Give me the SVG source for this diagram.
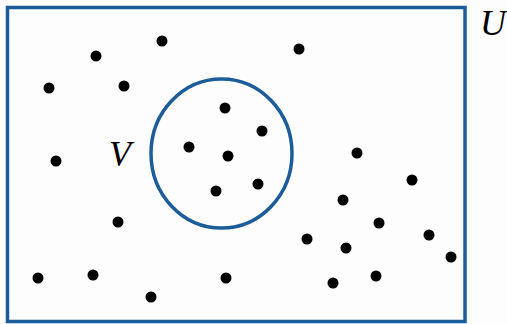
<svg xmlns="http://www.w3.org/2000/svg" width="507" height="324" viewBox="0 0 507 324">
<style>
.frame{fill:none;stroke:#1b5c99;stroke-width:3.5}
.dot{fill:#000}
.lbl{font-family:"Liberation Serif",serif;font-style:italic;font-size:36px;fill:#000}
</style>
<rect width="507" height="324" fill="#fdfdfd"/>
<g id="U">
<rect class="frame" x="7.5" y="7.5" width="457.5" height="314"/>
<text class="lbl" x="480" y="35">U</text>
</g>
<g id="V">
<ellipse class="frame" cx="221.5" cy="153.5" rx="70.5" ry="74.5"/>
<text class="lbl" x="109" y="166">V</text>
</g>
<g id="points">
<circle class="dot" cx="162" cy="41" r="5.5"/>
<circle class="dot" cx="96" cy="56" r="5.5"/>
<circle class="dot" cx="49" cy="88" r="5.5"/>
<circle class="dot" cx="124" cy="86" r="5.5"/>
<circle class="dot" cx="225" cy="108" r="5.5"/>
<circle class="dot" cx="262" cy="131" r="5.5"/>
<circle class="dot" cx="189" cy="147" r="5.5"/>
<circle class="dot" cx="228" cy="156" r="5.5"/>
<circle class="dot" cx="56" cy="161" r="5.5"/>
<circle class="dot" cx="299" cy="49" r="5.5"/>
<circle class="dot" cx="357" cy="153" r="5.5"/>
<circle class="dot" cx="38" cy="278" r="5.5"/>
<circle class="dot" cx="93" cy="275" r="5.5"/>
<circle class="dot" cx="118" cy="222" r="5.5"/>
<circle class="dot" cx="151" cy="297" r="5.5"/>
<circle class="dot" cx="216" cy="191" r="5.5"/>
<circle class="dot" cx="258" cy="184" r="5.5"/>
<circle class="dot" cx="226" cy="278" r="5.5"/>
<circle class="dot" cx="412" cy="180" r="5.5"/>
<circle class="dot" cx="343" cy="200" r="5.5"/>
<circle class="dot" cx="379" cy="223" r="5.5"/>
<circle class="dot" cx="307" cy="239" r="5.5"/>
<circle class="dot" cx="346" cy="248" r="5.5"/>
<circle class="dot" cx="429" cy="235" r="5.5"/>
<circle class="dot" cx="451" cy="257" r="5.5"/>
<circle class="dot" cx="376" cy="276" r="5.5"/>
<circle class="dot" cx="333" cy="283" r="5.5"/>
</g>
</svg>
